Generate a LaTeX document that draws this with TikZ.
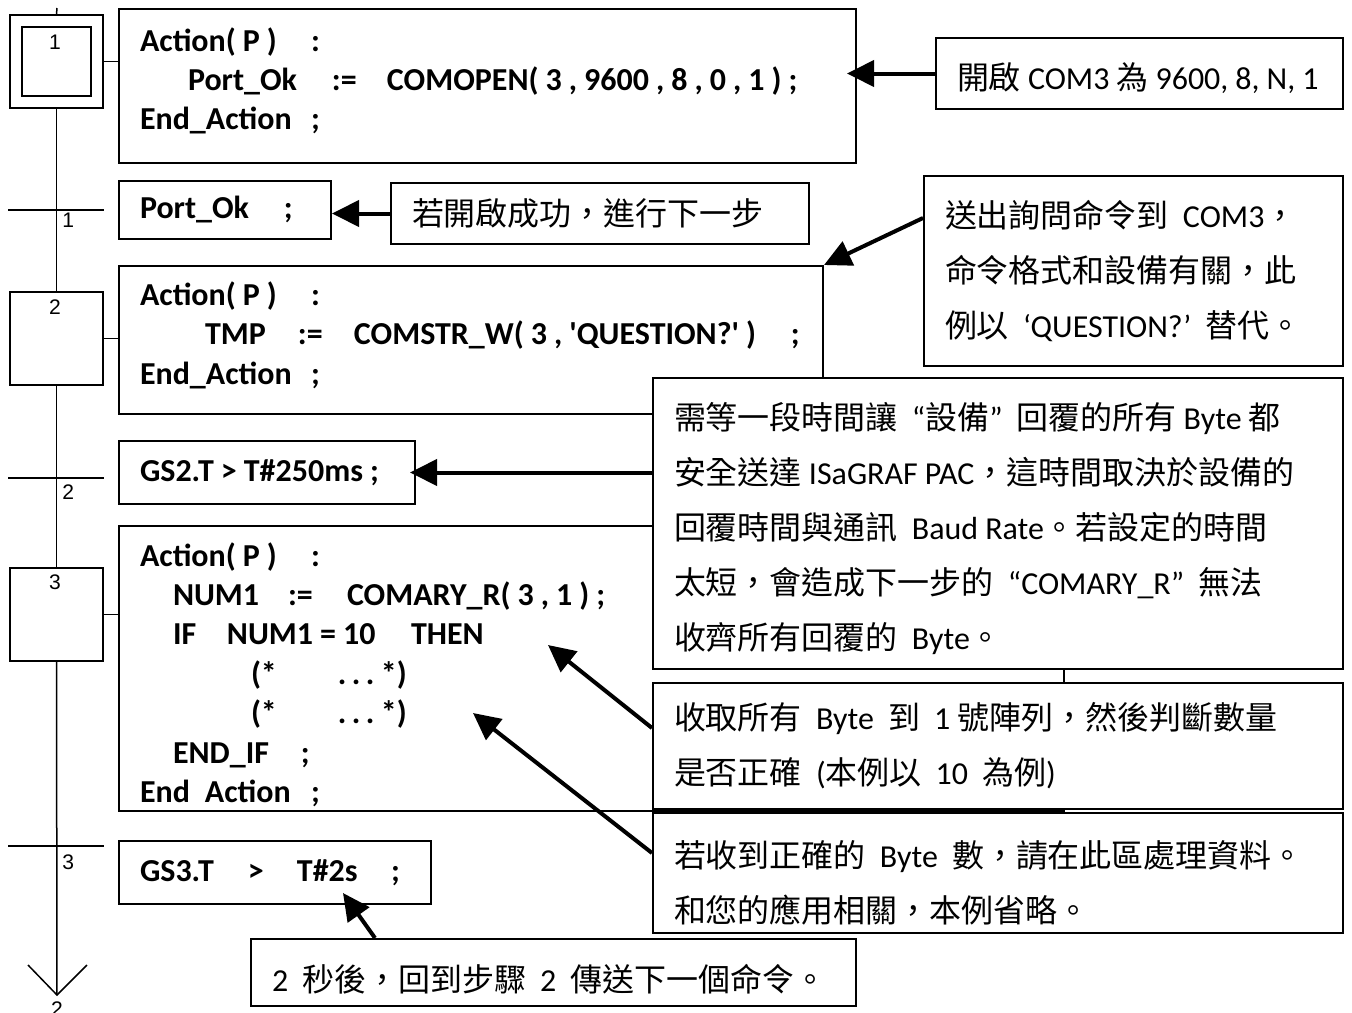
\documentclass[tikz,border=0pt]{standalone}
\usepackage{fontspec}
\setmainfont{Carlito}
\newfontfamily\cjk{Noto Sans CJK TC}
\newfontfamily\codefont{Carlito}[Ligatures=TeXOff]
\newfontfamily\numfont{Liberation Sans}
\usetikzlibrary{arrows.meta, calc, positioning}
\newcommand{\lat}[1]{{\rmfamily #1}}
\newcommand{\tightspaces}{\spaceskip=0.22em\relax\xspaceskip=0.22em\relax}
\tikzset{
    my-step/.style={
        draw, line width=0.03cm, minimum size=1.86cm, inner sep=0pt
    },
    my-init-step/.style={
        draw, line width=0.03cm, minimum size=1.38cm, inner sep=0pt
    },
    my-wire/.style={
        line width=0.03cm
    },
    my-num/.style={
        font=\numfont\fontsize{12}{14}\selectfont, inner sep=0pt
    },
    my-code/.style={
        draw, line width=0.04cm, anchor=north west, align=left,
        inner xsep=0.42cm, inner ysep=0pt,
        font=\codefont\bfseries\fontsize{18.2}{22.4}\selectfont,
        execute at begin node=\tightspaces
    },
    my-note/.style={
        draw, fill=white, line width=0.04cm, anchor=north west, align=left,
        inner xsep=0.42cm, inner ysep=0pt,
        font=\cjk\fontsize{18.2}{31.4}\selectfont,
        execute at begin node=\tightspaces
    },
    my-arrow/.style={
        line width=0.08cm, -{Triangle[length=0.54cm, width=0.52cm]}
    },
}

\begin{document}
\begin{tikzpicture}

        \useasboundingbox (0, 0) rectangle (27.04, -20.26);

        % STEPS
        \coordinate[]        (TOP)     at (1.14, -0.16);
        \node[my-step]       (STEP1)   at (1.13, -1.23)            {};
        \node[my-init-step]  (STEP1IN) at (STEP1)                  {};
        \node[my-step]       (STEP2)   at ($(STEP1) + (0, -5.54)$) {};
        \node[my-step]       (STEP3)   at ($(STEP2) + (0, -5.52)$) {};
        \node[my-num, anchor=north] (STEP1NUM) at ($(STEP1IN.north) + (-0.03, -0.16)$) {1};
        \node[my-num, anchor=north] (STEP2NUM) at ($(STEP2.north) + (-0.03, -0.16)$)   {2};
        \node[my-num, anchor=north] (STEP3NUM) at ($(STEP3.north) + (-0.03, -0.15)$)   {3};

        % TRANSITIONS
        \coordinate[] (TRANS1)  at ($(STEP1) + (0.01, -2.97)$);
        \coordinate[] (TRANS1L) at ($(TRANS1) + (-0.98, 0)$);
        \coordinate[] (TRANS1R) at ($(TRANS1) + (0.94, 0)$);
        \coordinate[] (TRANS2)  at ($(STEP2) + (0.01, -2.79)$);
        \coordinate[] (TRANS2L) at ($(TRANS2) + (-0.98, 0)$);
        \coordinate[] (TRANS2R) at ($(TRANS2) + (0.94, 0)$);
        \coordinate[] (TRANS3)  at ($(STEP3) + (0.01, -4.63)$);
        \coordinate[] (TRANS3L) at ($(TRANS3) + (-0.98, 0)$);
        \coordinate[] (TRANS3R) at ($(TRANS3) + (0.94, 0)$);
        \draw[my-wire] (TRANS1L) -- (TRANS1R);
        \draw[my-wire] (TRANS2L) -- (TRANS2R);
        \draw[my-wire] (TRANS3L) -- (TRANS3R);
        \node[my-num, anchor=north west] (TRANS1NUM) at ($(TRANS1) + (0.1, -0.06)$) {1};
        \node[my-num, anchor=north west] (TRANS2NUM) at ($(TRANS2) + (0.1, -0.12)$) {2};
        \node[my-num, anchor=north west] (TRANS3NUM) at ($(TRANS3) + (0.1, -0.16)$) {3};

        % JUMP BACK TO STEP 2
        \coordinate[] (END)  at (1.14, -19.9);
        \coordinate[] (ENDL) at ($(END) + (-0.58, 0.6)$);
        \coordinate[] (ENDR) at ($(END) + (0.6, 0.6)$);
        \node[my-num, anchor=north] (ENDNUM) at ($(END) + (0, -0.12)$) {2};

        % MAIN LINE
        \draw[my-wire] (TOP) -- (STEP1.north);
        \draw[my-wire] (STEP1.south) -- (STEP2.north);
        \draw[my-wire] (STEP2.south) -- (STEP3.north);
        \draw[my-wire] (STEP3.south) -- (END);
        \draw[my-wire] (ENDL) -- (END) -- (ENDR);

        % ACTIONS
        \node[my-code, text width=13.9cm, minimum height=3.08cm] (ACT1) at (2.36, -0.16) {%
            \makebox[3.42cm][l]{Action( P )}:\\
            \hspace*{0.96cm}\makebox[2.88cm][l]{Port\_Ok}\makebox[1.1cm][l]{:=}COMOPEN( 3 , 9600 , 8 , 0 , 1 ) ;\\
            \makebox[3.42cm][l]{End\_Action};\rule[-0.3cm]{0pt}{0pt}};
        \node[my-code, text width=13.24cm, minimum height=2.96cm] (ACT2) at (2.36, -5.3) {%
            \makebox[3.42cm][l]{Action( P )}:\\
            \hspace*{1.3cm}\makebox[1.86cm][l]{TMP}\makebox[1.12cm][l]{:=}\makebox[8.74cm][l]{COMSTR\_W( 3 , 'QUESTION?' )};\\
            \makebox[3.42cm][l]{End\_Action};\rule[-0.28cm]{0pt}{0pt}};
        \node[my-code, text width=18.06cm, minimum height=5.7cm] (ACT3) at (2.36, -10.5) {%
            \rule{0pt}{0.72cm}\makebox[3.42cm][l]{Action( P )}:\\
            \hspace*{0.66cm}\makebox[2.3cm][l]{NUM1}\makebox[1.18cm][l]{:=}COMARY\_R( 3 , 1 ) ;\\
            \hspace*{0.66cm}\makebox[1.08cm][l]{IF}\makebox[3.68cm][l]{NUM1 = 10}THEN\\
            \hspace*{2.22cm}\makebox[1.74cm][l]{(*}\makebox[0.86cm][l]{.\,.\,.}*)\\
            \hspace*{2.22cm}\makebox[1.74cm][l]{(*}\makebox[0.86cm][l]{.\,.\,.}*)\\
            \hspace*{0.66cm}\makebox[2.56cm][l]{END\_IF};\\
            \makebox[3.42cm][l]{End\hspace{0.3cm}Action};};
        \draw[my-wire] (STEP1.east) -- (STEP1.east -| ACT1.west);
        \draw[my-wire] (STEP2.east) -- (STEP2.east -| ACT2.west);
        \draw[my-wire] (STEP3.east) -- (STEP3.east -| ACT3.west);

        % RECEPTIVITIES
        \node[my-code, text width=3.4cm, minimum height=1.16cm]  (REC1) at (2.36, -3.6)  {\makebox[2.88cm][l]{Port\_Ok};};
        \node[my-code, text width=5.08cm, minimum height=1.26cm] (REC2) at (2.36, -8.8)  {GS2.T > T\#250ms ;};
        \node[my-code, text width=5.4cm, minimum height=1.26cm]  (REC3) at (2.36, -16.8) {%
            \makebox[2.16cm][l]{GS3.T}\makebox[0.98cm][l]{>}\makebox[1.88cm][l]{T\#2s};};

        % NOTES
        \node[my-note, text width=7.3cm, minimum height=1.42cm] (NOTE1) at (18.7, -0.74) {\rule{0pt}{0.72cm}開啟~\lat{COM3}~為~\lat{9600,~8,~N,~1}};
        \node[my-note, text width=7.52cm, minimum height=1.22cm] (NOTE2) at (7.8, -3.64) {若開啟成功，進行下一步};
        \node[my-note, text width=7.54cm, minimum height=3.8cm] (NOTE3) at (18.46, -3.5) {%
            送出詢問命令到~~\lat{COM3}，\\
            命令格式和設備有關，此\\
            例以~~\lat{‘QUESTION?’}~~替代。};
        \node[my-note, text width=12.96cm, minimum height=5.82cm] (NOTE4) at (13.04, -7.54) {%
            \rule{0pt}{0.74cm}需等一段時間讓~~\lat{“}設備\lat{”}~~回覆的所有~\lat{Byte}~都\\
            安全送達~\lat{ISaGRAF~PAC}，這時間取決於設備的\\
            回覆時間與通訊~~\lat{Baud~Rate}。若設定的時間\\
            太短，會造成下一步的~~\lat{“COMARY\_R”}~~無法\\
            收齊所有回覆的~~\lat{Byte}。};
        \node[my-note, text width=12.96cm, minimum height=2.52cm] (NOTE5) at (13.04, -13.64) {%
            收取所有~~\lat{Byte}~~到~~\lat{1}~號陣列，然後判斷數量\\
            是否正確~~\lat{(}本例以~~\lat{10}~~為例\lat{)}};
        \node[my-note, text width=12.96cm, minimum height=2.4cm] (NOTE6) at (13.04, -16.24) {%
            \rule{0pt}{0.92cm}若收到正確的~~\lat{Byte}~~數，請在此區處理資料。\\
            和您的應用相關，本例省略。};
        \node[my-note, text width=11.26cm, minimum height=1.34cm] (NOTE7) at (5.0, -18.76) {%
            \rule{0pt}{0.8cm}\lat{2}~~秒後，回到步驟~~\lat{2}~~傳送下一個命令。};

        % ARROW TARGETS
        \coordinate[] (THEN) at ($(ACT3.north west) + (8.6, -2.4)$);
        \coordinate[] (DOTS) at ($(ACT3.north west) + (7.1, -3.76)$);
        \coordinate[] (TWOS) at ($(REC3.north west) + (4.5, -1.06)$);

        % ARROWS
        \draw[my-arrow] (NOTE1.west) -- ($(ACT1.east |- NOTE1.west) + (-0.2, 0)$);
        \draw[my-arrow] (NOTE2.west) -- (NOTE2.west -| REC1.east);
        \draw[my-arrow] ($(NOTE3.north west) + (0, -0.86)$) -- (ACT2.north east);
        \draw[my-arrow] (NOTE4.west |- REC2.east) -- ($(REC2.east) + (-0.12, 0)$);
        \draw[my-arrow] ($(NOTE5.west) + (0, 0.36)$) -- (THEN);
        \draw[my-arrow] ($(NOTE6.west) + (0, 0.4)$) -- (DOTS);
        \draw[my-arrow] ($(NOTE7.north west) + (2.5, 0)$) -- (TWOS);

\end{tikzpicture}
\end{document}
